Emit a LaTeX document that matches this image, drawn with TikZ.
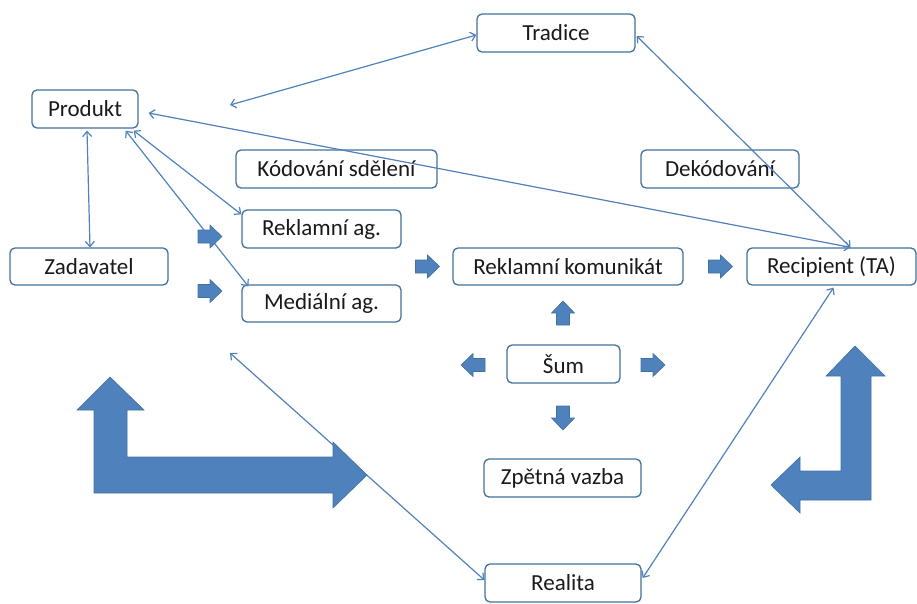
\documentclass[tikz,border=0pt]{standalone}
\usepackage{fontspec}
\setmainfont{Carlito}
\usetikzlibrary{arrows.meta}
\definecolor{boxc}{HTML}{41719C}
\definecolor{linec}{HTML}{4F81BD}
\definecolor{arrfill}{HTML}{4F81BD}
\definecolor{txt}{HTML}{1A1A1A}
\tikzset{
  lbl/.style={draw=boxc, fill=white, line width=1.3pt, rounded corners=5pt, inner sep=0pt,
    text=txt, font=\fontsize{23}{26}\selectfont},
  conn/.style={draw=linec, line width=1.2pt, {Straight Barb[length=5pt,width=9pt,line width=1.2pt]}-{Straight Barb[length=5pt,width=9pt,line width=1.2pt]}},
  blockarr/.style={fill=arrfill, draw=boxc, line width=0.6pt}
}
\newcommand{\smallarr}[3]{%
  \draw[blockarr, shift={(#1,#2)}, rotate=#3] (-12,-6.5) -- (0,-6.5) -- (0,-11.5) -- (12,0) -- (0,11.5) -- (0,6.5) -- (-12,6.5) -- cycle;}
\begin{document}
\begin{tikzpicture}[x=1pt,y=-1pt]
\useasboundingbox (0,0) rectangle (917,603);

% nodes
\node[lbl, minimum width=158pt, minimum height=38pt] (trad) at (556,33) {Tradice};
\node[lbl, minimum width=106pt, minimum height=38pt] (prod) at (85,109) {Produkt};
\node[lbl, minimum width=201pt, minimum height=38pt] (kod) at (336.5,169) {Kódování sdělení};
\node[lbl, minimum width=158pt, minimum height=38pt] (dek) at (720,169) {Dekódování};
\node[lbl, minimum width=159pt, minimum height=38pt] (rag) at (321.5,229) {Reklamní ag.};
\node[lbl, minimum width=158pt, minimum height=37pt] (zad) at (89,266.5) {Zadavatel};
\node[lbl, minimum width=159pt, minimum height=37pt] (mag) at (321.5,303.5) {Mediální ag.};
\node[lbl, minimum width=230pt, minimum height=37pt] (rk) at (568,266.5) {Reklamní komunikát};
\node[lbl, minimum width=169pt, minimum height=37pt] (rec) at (831.5,266.5) {Recipient (TA)};
\node[lbl, minimum width=113pt, minimum height=38pt] (sum) at (563.5,364) {Šum};
\node[lbl, minimum width=157pt, minimum height=38pt] (zv) at (562.5,478) {Zpětná vazba};
\node[lbl, minimum width=156pt, minimum height=38pt] (real) at (563,583) {Realita};

\coordinate (t1) at (230,105);
\coordinate (m1) at (230,353);

% connectors
\draw[conn] (t1) -- ([yshift=-2pt]trad.west);
\draw[conn] ([xshift=1pt,yshift=-3pt]trad.east) -- ([xshift=19pt]rec.north);
\draw[conn] ([xshift=10pt,yshift=-4pt]prod.east) -- ([xshift=19pt]rec.north);
\draw[conn] ([xshift=2pt,yshift=-2pt]prod.south) -- ([xshift=1pt]zad.north);
\draw[conn] ([xshift=-5pt,yshift=-2pt]prod.south east) -- ([yshift=-5pt]rag.north west);
\draw[conn] ([xshift=-13pt,yshift=-2pt]prod.south east) -- ([xshift=7pt,yshift=-2pt]mag.north west);
\draw[conn] (m1) -- ([yshift=3pt]real.west);
\draw[conn] ([xshift=2pt,yshift=-2pt]rec.south) -- ([xshift=1pt,yshift=5pt]real.east);

% small block arrows
\smallarr{210}{236.5}{0}
\smallarr{210}{291}{0}
\smallarr{427.5}{266.5}{0}
\smallarr{720.5}{266.5}{0}
\smallarr{563}{313}{90}
\smallarr{473}{365}{180}
\smallarr{653}{365}{0}
\smallarr{563}{418}{-90}

% large L arrows
\draw[blockarr] (110,377) -- (144,410) -- (127,410) -- (127,457) -- (333,457) -- (333,442)
  -- (367,475) -- (333,508) -- (333,493) -- (94,493) -- (94,410) -- (77,410) -- cycle;
\draw[blockarr] (855,346) -- (885,376) -- (871,376) -- (871,500) -- (800,500) -- (800,513)
  -- (771,485) -- (800,457) -- (800,471) -- (841,471) -- (841,376) -- (826,376) -- cycle;
\end{tikzpicture}
\end{document}
